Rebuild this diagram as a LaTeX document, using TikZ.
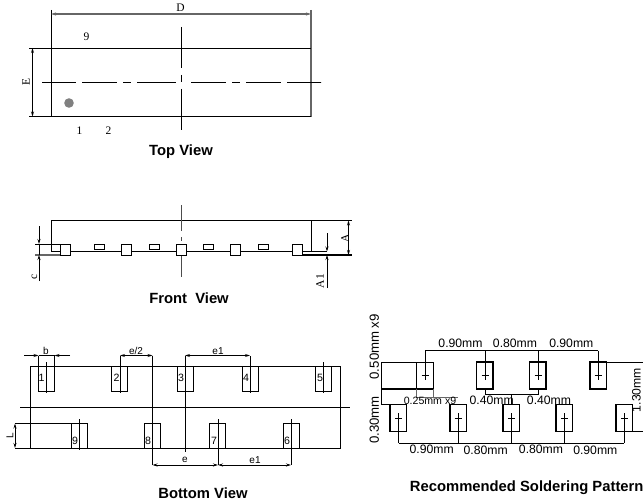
\documentclass[tikz,border=0pt]{standalone}
\usepackage{fontspec}
\setmainfont{Liberation Serif}
\setsansfont{Liberation Sans}
\usetikzlibrary{arrows.meta, positioning, calc}

\begin{document}
\begin{tikzpicture}[
    x=1pt, y=-1pt,
    line width=0.95pt,
    title/.style={font=\sffamily\bfseries\fontsize{14.8}{16}\selectfont, inner sep=0pt},
    serifdim/.style={font=\fontsize{11.5}{12}\selectfont, inner sep=0pt},
    sansdim/.style={font=\sffamily\fontsize{10}{11}\selectfont, inner sep=0pt},
    padnum/.style={font=\sffamily\fontsize{10.6}{11}\selectfont, inner sep=0pt},
    solder/.style={font=\sffamily\fontsize{12.2}{13}\selectfont, inner sep=0pt},
    soldertall/.style={font=\sffamily\fontsize{13.2}{14}\selectfont, inner sep=0pt, rotate=90},
    arrow/.style={{Stealth[length=5pt,width=3pt]}-{Stealth[length=5pt,width=3pt]}},
    endarrow/.style={-{Stealth[length=5pt,width=3pt]}},
    thinpad/.style={draw, line width=0.9pt},
    thickpad/.style={draw, line width=1.4pt},
    grayline/.style={draw=black!60}
]
    \useasboundingbox (0,0) rectangle (643,503);

    % Top view
    \draw (51,10) -- (51,116.5);
    \draw[grayline, line width=1.1pt] (311,10) -- (311,116.5);
    \draw[arrow, black!60, line width=1.3pt] (51,14) -- (311,14);
    \node[serifdim, fill=white, inner xsep=1pt] (labelD) at (180.5,7.5) {D};
    \draw (29,48) -- (311,48);
    \draw (29,116.5) -- (311,116.5);
    \draw[arrow] (32.5,48) -- (32.5,116.5);
    \node[serifdim, rotate=90] (labelE) at (26,82) {E};
    \draw[dash pattern=on 34pt off 6pt on 35pt off 6pt on 8pt off 6pt on 39pt off 15pt on 35pt off 6pt on 8pt off 6pt on 35pt off 6pt on 34pt off 0pt] (42,82) -- (321,82);
    \draw[dash pattern=on 41pt off 7pt on 7pt off 7pt on 41pt] (181,27) -- (181,130);
    \fill[black!50] (69,103) circle [radius=4.8pt];
    \node[serifdim] (pinnine) at (86.5,37) {9};
    \node[serifdim] (pinone) at (79.5,130.5) {1};
    \node[serifdim] (pintwo) at (108.5,130.5) {2};
    \node[title] (topview) at (181,152) {Top View};

    % Front view
    \draw (311,220.5) -- (51,220.5) -- (51,251.5) -- (311,251.5) -- (327,251.5);
    \draw (311,220.5) -- (352,220.5);
    \draw (311,220.5) -- (311,251.5);
    \draw (35,244) -- (70,244);
    \draw[line width=1.1pt, black!60] (35,255) -- (70,255);
    \draw[line width=1.1pt] (302,255) -- (352,255);
    \foreach \px in {60,121,176,230,292}
        \draw[fill=white] (\px,244.3) rectangle ++(10,10.7);
    \foreach \px in {94,149,203,258}
        \draw[fill=white] (\px,244.3) rectangle ++(10,5);
    \draw[black!70, dash pattern=on 26pt off 6pt on 4pt off 15pt on 22pt] (181,205) -- (181,277);
    \draw[endarrow] (39,226) -- (39,244);
    \draw (39,244) -- (39,255);
    \draw[endarrow] (39,281) -- (39,255);
    \node[serifdim, rotate=90] (labelc) at (34.5,277) {c};
    \draw[endarrow] (327,233) -- (327,251.5);
    \draw[endarrow] (327,288) -- (327,255);
    \node[serifdim, rotate=90] (labelAone) at (320,281) {A1};
    \draw[arrow] (348.5,220.5) -- (348.5,255);
    \node[serifdim, rotate=90] (labelA) at (345,238) {A};
    \node[title] (frontview) at (189,298) {Front\ \ View};

    % Bottom view
    \draw (30,366.5) rectangle (340,448);
    \draw (20,407.5) -- (350,407.5);
    \foreach \px/\lbl/\nx in {38.5/1/41.5, 111.5/2/116.5, 177/3/181, 242/4/246, 315.5/5/320}
    {
        \draw[fill=white] (\px,366.5) rectangle ++(16.3,24.5);
        \node[padnum] at (\nx,378) {\lbl};
    }
    \foreach \px/\lbl/\nx in {71/9/75, 144.5/8/148, 209.5/7/214, 283/6/287}
    {
        \draw[fill=white] (\px,423.5) rectangle ++(16.3,24.5);
        \node[padnum] at (\nx,441) {\lbl};
    }
    % extension lines
    \draw (46.5,362) -- (46.5,393);
    \draw (120,356) -- (120,393);
    \draw (185,356) -- (185,452);
    \draw (250,356) -- (250,393);
    \draw (323.5,362) -- (323.5,393);
    \draw (79,419) -- (79,450);
    \draw (152.5,355.5) -- (152.5,465);
    \draw (218,419) -- (218,465);
    \draw (291,419) -- (291,465);
    \draw (38.5,355.5) -- (38.5,366.5);
    \draw (54.5,355.5) -- (54.5,366.5);
    \draw (15,423.5) -- (71,423.5);
    \draw (15,448) -- (30,448);
    % dimensions
    \draw[endarrow] (24,355.5) -- (38.5,355.5);
    \draw (38.5,355.5) -- (54.5,355.5);
    \draw[endarrow] (70,355.5) -- (54.5,355.5);
    \draw[arrow] (120,355.5) -- (152.5,355.5);
    \draw[arrow] (185,355.5) -- (250,355.5);
    \draw[arrow] (152.5,465) -- (218,465);
    \draw[arrow] (218,465) -- (291,465);
    \draw[arrow] (15,423.5) -- (15,448);
    \node[sansdim] (labelb) at (46,350.5) {b};
    \node[sansdim] (labeleh) at (136,351) {e/2};
    \node[sansdim] (labeleone) at (218,351) {e1};
    \node[sansdim] (labele) at (185,460) {e};
    \node[sansdim] (labeletwo) at (255,460) {e1};
    \node[sansdim, rotate=90] (labelL) at (10,436) {L};
    \node[title] (bottomview) at (203,493) {Bottom View};

    % Recommended soldering pattern
    \draw (381.3,362) -- (416.5,362);
    \draw[line width=1.1pt] (381.3,389) -- (433,389);
    \draw (381.3,404.7) -- (390,404.7);
    \draw (381.3,362) -- (381.3,404.7);
    \draw (606,362) -- (643,362);
    \draw (633,431.7) -- (643,431.7);
    \draw[thinpad] (416.5,362) rectangle (433,389);
    \foreach \px in {476.5,529.5,590}
        \draw[thickpad] (\px,362) rectangle ++(16.5,27);
    \foreach \px in {390,450,503,556,616}
        \draw[thickpad] (\px,404.7) rectangle ++(16.5,27);
    % centre marks and dimension lines, top row
    \draw (425,350.7) -- (598,350.7);
    \foreach \px in {425,485,538,598}
    {
        \draw (\px,350.7) -- (\px,380);
        \draw (\px-3.5,375.5) -- (\px+3.5,375.5);
    }
    % centre marks and dimension lines, bottom row
    \draw (398.5,443) -- (624,443);
    \foreach \px in {398.5,458,511.7,564.5,624.5}
    {
        \draw (\px,413) -- (\px,443);
        \draw (\px-3.5,418) -- (\px+3.5,418);
    }
    \draw (485,389) -- (485,394.3) -- (538,394.3) -- (538,389);
    \draw (511.7,394.3) -- (511.7,404.7);
    \draw[black!60] (416.5,389) -- (416.5,397.3) -- (458,397.3);
    \draw[black!60] (433,389) -- (433,397.3);
    \node[soldertall] (padwidth) at (374.3,346.7) {0.50mm x9};
    \node[soldertall] (padgap) at (374.3,420) {0.30mm};
    \node[solder, rotate=90] (padspan) at (636.5,390) {1.30mm};
    \node[font=\sffamily\fontsize{10.6}{11}\selectfont, inner sep=0pt] (padlen) at (430,400.7) {0.25mm x9};
    \node[solder] at (491.7,400.7) {0.40mm};
    \node[solder] at (549,400.7) {0.40mm};
    \node[solder] at (460.5,343.7) {0.90mm};
    \node[solder] at (515,343.7) {0.80mm};
    \node[solder] at (571.3,343.7) {0.90mm};
    \node[solder] at (431.7,449) {0.90mm};
    \node[solder] at (485.7,450) {0.80mm};
    \node[solder] at (541,449) {0.80mm};
    \node[solder] at (595.3,450) {0.90mm};
    \node[title] (solderview) at (526.7,488) {Recommended Soldering Pattern};
\end{tikzpicture}
\end{document}
